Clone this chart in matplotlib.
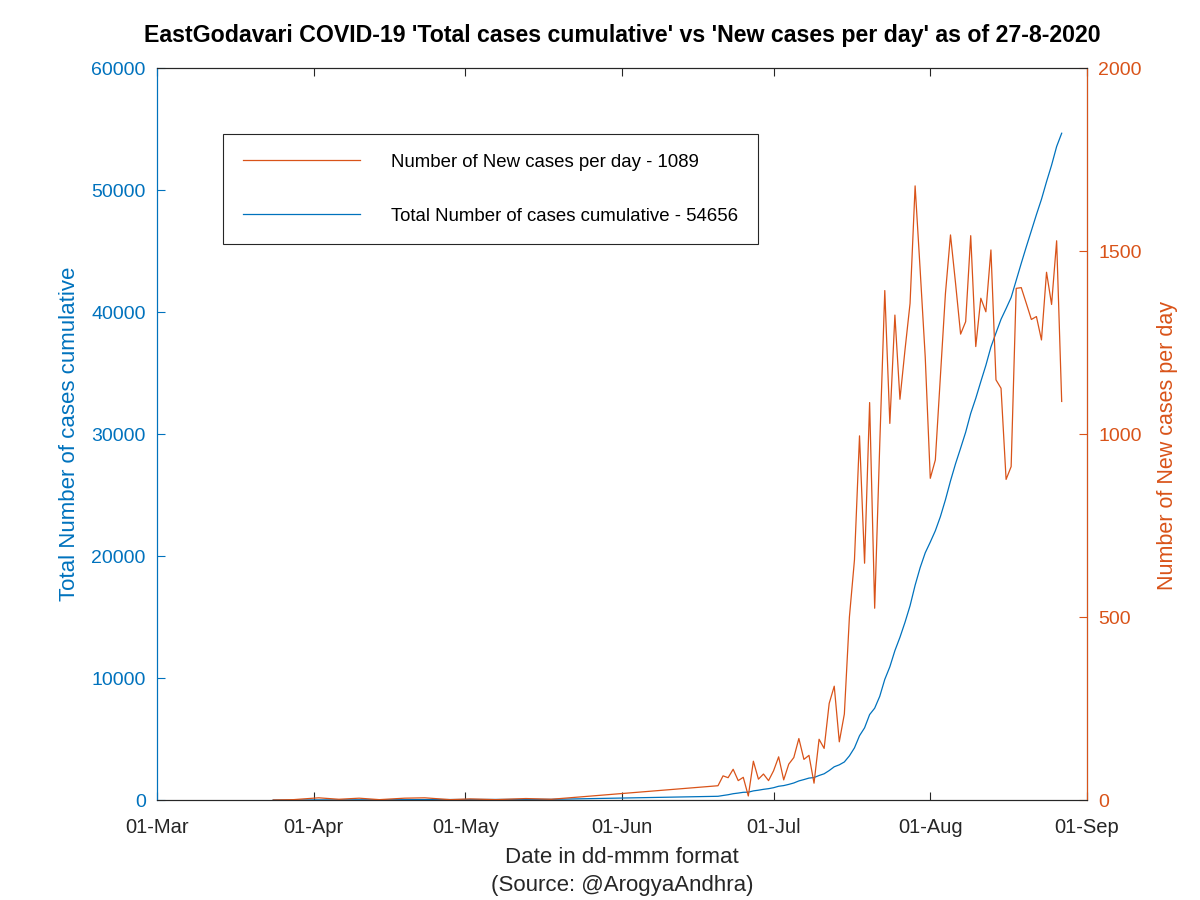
import matplotlib
matplotlib.use('Agg')
import matplotlib.pyplot as plt
import matplotlib.dates as mdates
import numpy as np
import pandas as pd

plt.rcParams['font.family'] = ['Liberation Sans', 'DejaVu Sans']

# sparse early reports (Mar 24 - May 18)
early_dates = ['2020-03-24', '2020-03-28', '2020-04-02', '2020-04-06', '2020-04-10',
               '2020-04-14', '2020-04-19', '2020-04-23', '2020-04-25', '2020-04-28',
               '2020-05-02', '2020-05-07', '2020-05-13', '2020-05-18']
early_new = [0, 1, 6, 2, 5, 1, 5, 6, 4, 1, 3, 1, 4, 2]
early_total = [0, 3, 9, 11, 17, 20, 27, 34, 38, 40, 44, 47, 52, 55]

# daily reports from 20 Jun to 27 Aug
daily_new = [39, 66, 61, 84, 53, 62, 11, 106, 57, 71, 53,
             80, 118, 55, 98, 116, 168, 111, 122, 46, 166, 141, 264, 311, 159, 235,
             500, 656, 995, 647, 1086, 524, 970, 1392, 1029, 1325, 1095, 1230, 1357,
             1678, 1448, 1211,
             879, 929, 1157, 1384, 1544, 1412, 1273, 1307, 1542, 1239, 1371, 1334,
             1503, 1148, 1125, 876, 911, 1398, 1400, 1357, 1313, 1321, 1257, 1442,
             1354, 1528, 1089]
daily_total = [305, 371, 432, 516, 569, 631, 642, 748, 805, 876, 929,
               1009, 1127, 1182, 1280, 1396, 1564, 1675, 1797, 1843, 2009, 2150, 2414,
               2725, 2884, 3119, 3619, 4275, 5270, 5917, 7003, 7527, 8497, 9889, 10918,
               12243, 13338, 14568, 15925, 17603, 19051, 20262,
               21141, 22070, 23227, 24611, 26155, 27567, 28840, 30147, 31689, 32928,
               34299, 35633, 37136, 38284, 39409, 40285, 41196, 42594, 43994, 45351,
               46664, 47985, 49242, 50684, 52038, 53566, 54656]

dates = list(pd.to_datetime(early_dates)) + list(pd.date_range('2020-06-20', '2020-08-27'))
new_cases = early_new + daily_new
total_cases = early_total + daily_total

blue = '#0072BD'
orange = '#D95319'

fig = plt.figure(figsize=(12, 9), dpi=100)
ax1 = fig.add_axes([0.1308, 0.1111, 0.775, 0.8133])
ax2 = ax1.twinx()

l1, = ax1.plot(dates, total_cases, color=blue, lw=0.9)
l2, = ax2.plot(dates, new_cases, color=orange, lw=0.9)

ax1.set_xlim(pd.Timestamp('2020-03-01'), pd.Timestamp('2020-09-01'))
ax1.set_ylim(0, 60000)
ax2.set_ylim(0, 2000)
ax1.set_yticks(np.arange(0, 60001, 10000))
ax2.set_yticks(np.arange(0, 2001, 500))
ax1.xaxis.set_major_locator(mdates.MonthLocator())
ax1.xaxis.set_major_formatter(mdates.DateFormatter('%d-%b'))

ax1.tick_params(axis='x', direction='in', top=True, length=6, labelsize=14.5,
                colors='#262626', pad=13)
ax1.tick_params(axis='y', direction='in', length=6, labelsize=14,
                colors=blue, right=False, pad=8)
ax2.tick_params(axis='y', direction='in', length=6, labelsize=14, colors=orange,
                pad=8)

ax1.spines['left'].set_color(blue)
ax2.spines['left'].set_color(blue)
ax2.spines['right'].set_color(orange)
for s in ['top', 'bottom']:
    ax1.spines[s].set_color('#262626')
    ax2.spines[s].set_color('#262626')

ax1.set_ylabel('Total Number of cases cumulative', color=blue, fontsize=16)
ax1.yaxis.set_label_coords(-0.083, 0.5)
ax2.set_ylabel('Number of New cases per day', color=orange, fontsize=15.5)
ax2.yaxis.set_label_coords(1.0755, 0.485)
ax1.set_xlabel('Date in dd-mmm format\n(Source: @ArogyaAndhra)', fontsize=16,
               color='#262626', linespacing=1.45)
ax1.xaxis.set_label_coords(0.5, -0.064)
ax1.set_title("EastGodavari COVID-19 'Total cases cumulative' vs 'New cases per day' as of 27-8-2020",
              fontsize=16.7, fontweight='bold', pad=19)

leg = ax2.legend([l2, l1],
                 ['Number of New cases per day - 1089',
                  'Total Number of cases cumulative - 54656'],
                 loc='upper left', bbox_to_anchor=(0.071, 0.9098), borderaxespad=0,
                 fontsize=13.4, handlelength=6.3, handletextpad=1.7, borderpad=1.05,
                 labelspacing=2.0, fancybox=False, framealpha=1)
leg.get_frame().set_edgecolor('#262626')
leg.get_frame().set_linewidth(0.8)

fig.savefig('out.png', dpi=100)
